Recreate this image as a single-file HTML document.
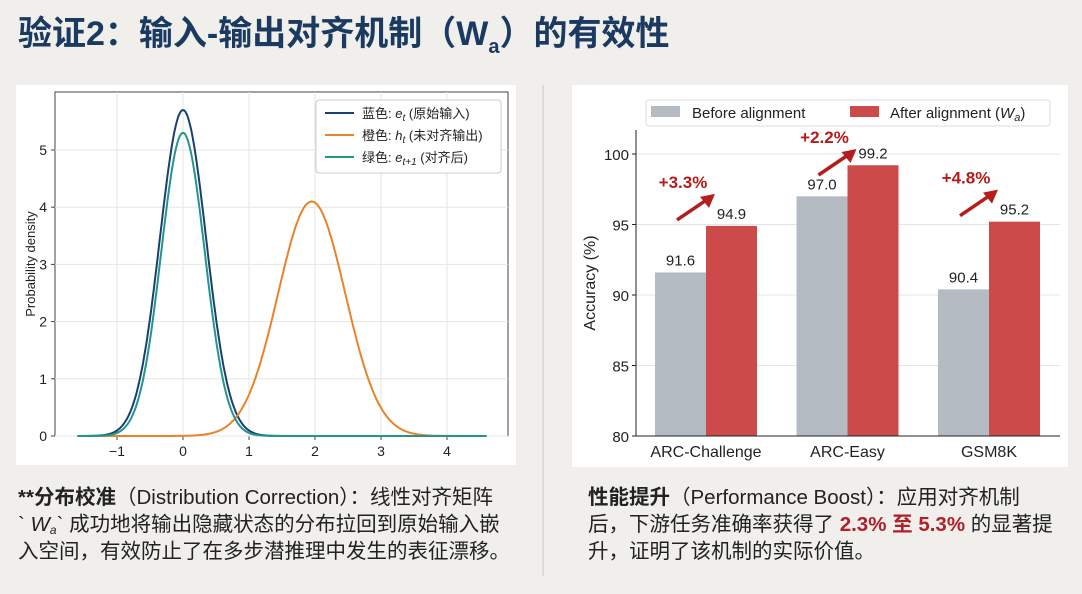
<!DOCTYPE html>
<html><head><meta charset="utf-8"><style>
body{margin:0;width:1082px;height:594px;background:#f0efeb;overflow:hidden;font-family:"Liberation Sans","Noto Sans CJK SC",sans-serif;position:relative}
.t{position:absolute;left:18px;top:6px;font-size:34px;font-weight:bold;color:#1b3a62;font-family:"Liberation Sans","Noto Sans CJK SC",sans-serif;letter-spacing:0px}
.p{position:absolute;font-size:20.5px;line-height:27px;color:#222;white-space:nowrap}
.p sub{line-height:0;vertical-align:-3px;font-size:12px}
.r{color:#b0202a;font-weight:bold}
</style></head><body>
<div class="t">验证2：输入-输出对齐机制（W<sub style="font-size:20px;line-height:0">a</sub>）的有效性</div>
<svg width="1082" height="594" style="position:absolute;left:0;top:0" id="svg">
<rect x="16" y="85" width="500" height="380" fill="#fff"/>
<rect x="572" y="85" width="496" height="382" fill="#fff"/>
<line x1="543" y1="85" x2="543" y2="576" stroke="#c8c8c8"/>
<g id="L"></g><g id="R"></g>
</svg>
<div class="p" style="left:18px;top:484px;width:520px"><b>**分布校准</b>（Distribution Correction）：线性对齐矩阵<br>` <i>W<sub>a</sub></i>` 成功地将输出隐藏状态的分布拉回到原始输入嵌<br>入空间，有效防止了在多步潜推理中发生的表征漂移。</div>
<div class="p" style="left:588px;top:484px;width:480px"><b>性能提升</b>（Performance Boost）：应用对齐机制<br>后，下游任务准确率获得了 <span class="r">2.3% 至 5.3%</span> 的显著提<br>升，证明了该机制的实际价值。</div>
<script>
const NS="http://www.w3.org/2000/svg";
function mk(p,t,a,txt){const e=document.createElementNS(NS,t);for(const k in a)e.setAttribute(k,a[k]);if(txt!==undefined)e.textContent=txt;p.appendChild(e);return e;}
// ---- density chart data ----
const curveNames=["蓝色","橙色","绿色"];
const curveMeans=[0,1.95,0];
const curveSds=[0.35,0.51,0.33];
const curvePeaks=[5.7,4.1,5.3];
const curveColors=["#1a3f72","#e8832a","#23968a"];
const xTicks=[-1,0,1,2,3,4];
const yTicks=[0,1,2,3,4,5];
const L=document.getElementById('L');
const X=v=>183+v*66, Y=v=>436-v*57.2;
mk(L,'rect',{x:55,y:92,width:453,height:344,fill:'none',stroke:'#444','stroke-width':1});
xTicks.forEach(t=>{const g=mk(L,'line',{x1:X(t),x2:X(t),y1:92,y2:436,stroke:'#e6e6e6'});
 mk(L,'line',{x1:X(t),x2:X(t),y1:436,y2:440,stroke:'#444'});
 const l=mk(L,'text',{x:X(t),y:456,'text-anchor':'middle','font-size':14,fill:'#222'},t<0?'−'+(-t):t);});
yTicks.forEach(t=>{mk(L,'line',{x1:55,x2:508,y1:Y(t),y2:Y(t),stroke:'#e6e6e6'});mk(L,'line',{x1:51,x2:55,y1:Y(t),y2:Y(t),stroke:'#444'});
 const l=mk(L,'text',{x:47,y:Y(t)+5,'text-anchor':'end','font-size':14,fill:'#222'},t);});
const yt=mk(L,'text',{x:35,y:264,'text-anchor':'middle','font-size':13,fill:'#222',transform:'rotate(-90 35 264)'},'Probability density');

curveMeans.forEach((m,i)=>{let d='';for(let k=0;k<=300;k++){const x=-1.6+6.2*k/300;const y=curvePeaks[i]*Math.exp(-((x-m)**2)/(2*curveSds[i]**2));d+=(k?'L':'M')+X(x).toFixed(1)+' '+Y(y).toFixed(1);}
 const p=mk(L,'path',{d:d,fill:'none',stroke:curveColors[i],'stroke-width':2});});
const lg=mk(L,'g',{});
mk(lg,'rect',{x:316,y:100,width:185,height:73,rx:3,fill:'#fff',stroke:'#ccc'});
const labs=[['e','t','(原始输入)'],['h','t','(未对齐输出)'],['e','t+1','(对齐后)']];
labs.forEach((l,i)=>{const y=113+i*22;mk(lg,'line',{x1:325,x2:354,y1:y,y2:y,stroke:curveColors[i],'stroke-width':2});
 const t=mk(lg,'text',{x:362,y:y+5,'font-size':13,fill:'#222'});
 mk(t,'tspan',{},curveNames[i]+': ');mk(t,'tspan',{'font-style':'italic'},l[0]);mk(t,'tspan',{'font-size':10,dy:3,'font-style':'italic'},l[1]);mk(t,'tspan',{dy:-3},' '+l[2]);});
// ---- bar chart data ----
const cats=["ARC-Challenge","ARC-Easy","GSM8K"];
const before=[91.6,97.0,90.4];
const after=[94.9,99.2,95.2];
const gains=["+3.3%","+2.2%","+4.8%"];
const barTicks=[80,85,90,95,100];
const R=document.getElementById('R');
const BY=v=>436-(v-80)*14.1, CX=i=>706+i*141.5;
barTicks.forEach(t=>{mk(R,'line',{x1:636,x2:1060,y1:BY(t),y2:BY(t),stroke:'#e4e4e4'});mk(R,'line',{x1:632,x2:636,y1:BY(t),y2:BY(t),stroke:'#222'});
 const l=mk(R,'text',{x:629,y:BY(t)+6,'text-anchor':'end','font-size':15,fill:'#222'},t);});
cats.forEach((c,i)=>{const cx=CX(i);
 const b1=mk(R,'rect',{x:cx-51,y:BY(before[i]),width:51,height:436-BY(before[i]),fill:'#b5bbc3'});
 const b2=mk(R,'rect',{x:cx,y:BY(after[i]),width:51,height:436-BY(after[i]),fill:'#cc4a4a'});
 mk(R,'text',{x:cx-25.5,y:BY(before[i])-7,'text-anchor':'middle','font-size':15,fill:'#222'},before[i].toFixed(1));
 mk(R,'text',{x:cx+25.5,y:BY(after[i])-7,'text-anchor':'middle','font-size':15,fill:'#222'},after[i].toFixed(1));
 const xl=mk(R,'text',{x:cx,y:457,'text-anchor':'middle','font-size':16,fill:'#222'},c);});
mk(R,'line',{x1:636,x2:636,y1:130,y2:436,stroke:'#222'});mk(R,'line',{x1:636,x2:1060,y1:436,y2:436,stroke:'#222'});
const at=mk(R,'text',{x:595,y:283,'text-anchor':'middle','font-size':16,fill:'#222',transform:'rotate(-90 595 283)'},'Accuracy (%)');
const bl=mk(R,'g',{});
mk(bl,'rect',{x:646,y:100,width:404,height:26,rx:3,fill:'#fff',stroke:'#ddd'});
mk(bl,'rect',{x:651,y:106,width:29,height:11,fill:'#b5bbc3'});
mk(bl,'text',{x:692,y:118,'font-size':15,fill:'#222'},'Before alignment');
mk(bl,'rect',{x:850,y:106,width:29,height:11,fill:'#cc4a4a'});
const t2=mk(bl,'text',{x:890,y:118,'font-size':15,fill:'#222'},'After alignment (');
mk(t2,'tspan',{'font-style':'italic'},'W');mk(t2,'tspan',{'font-style':'italic','font-size':11,dy:3},'a');mk(t2,'tspan',{dy:-3},')');
cats.forEach((c,i)=>{const cx=CX(i);
 const ay=Math.max(BY(after[i])-31,150);
 const ar=mk(R,'g',{});
 mk(ar,'line',{x1:cx-29,y1:ay+25,x2:cx+2,y2:ay+4,stroke:'#b51c1c','stroke-width':3.5});
 mk(ar,'polygon',{points:`${cx+9},${ay-1} ${cx-6},${ay+2} ${cx+3},${ay+13}`,fill:'#b51c1c'});
 const gt=mk(R,'text',{x:cx-23,y:ay-7,'text-anchor':'middle','font-size':17,'font-weight':'bold',fill:'#b51c1c'},gains[i]);});
</script>
</body></html>
